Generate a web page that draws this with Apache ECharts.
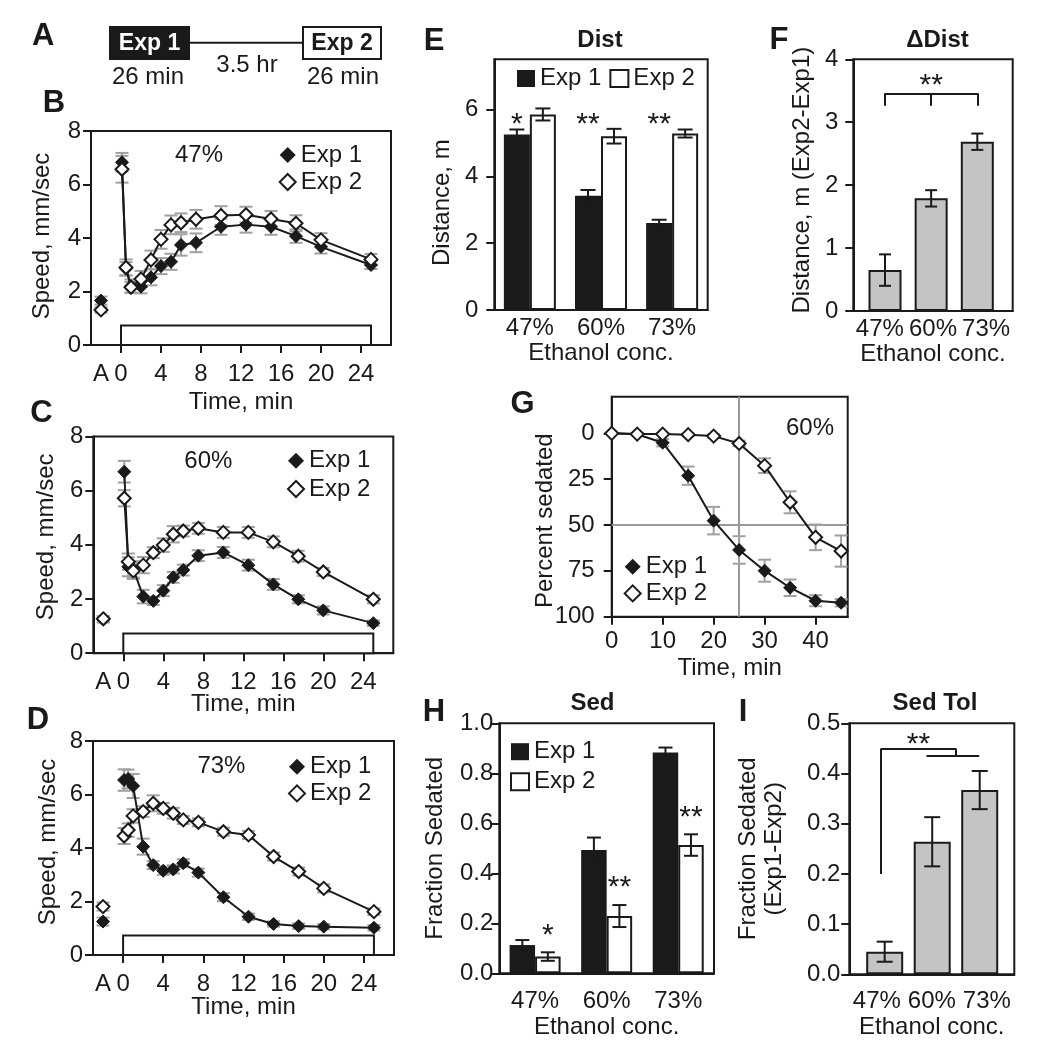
<!DOCTYPE html>
<html><head><meta charset="utf-8">
<script src="https://cdn.jsdelivr.net/npm/echarts@6/dist/echarts.min.js"></script>
<style>html,body{margin:0;padding:0;background:#fff}#c{width:1050px;height:1050px}</style>
</head><body><div id="c"></div>
<script>
// ---------------- DATA ----------------
const timeMin = [0.1, 0.5, 1, 2, 3, 4, 5, 6, 7.5, 10, 12.5, 15, 17.5, 20, 25];
const acclimX = -2;
const speedTicks = [0, 4, 8, 12, 16, 20, 24];

const speed47Exp1    = [6.83, 2.85, 2.2, 2.18, 2.53, 2.95, 3.11, 3.74, 3.82, 4.42, 4.5, 4.42, 4.07, 3.67, 2.99];
const speed47Exp1Err = [0.35, 0.25, 0.25, 0.25, 0.3, 0.3, 0.3, 0.4, 0.35, 0.3, 0.3, 0.3, 0.25, 0.25, 0.15];
const speed47Exp2    = [6.57, 2.9, 2.16, 2.47, 3.18, 3.95, 4.49, 4.57, 4.70, 4.84, 4.87, 4.71, 4.55, 3.93, 3.2];
const speed47Exp2Err = [0.5, 0.3, 0.2, 0.3, 0.35, 0.35, 0.35, 0.35, 0.35, 0.35, 0.3, 0.3, 0.3, 0.25, 0.2];
const speed47Acclim    = [1.66, 1.31];
const speed47AcclimErr = [0.15, 0.1];

const speed60Exp1    = [6.70, 3.19, 3.1, 2.09, 1.93, 2.31, 2.80, 3.07, 3.60, 3.72, 3.25, 2.54, 1.99, 1.58, 1.11];
const speed60Exp1Err = [0.4, 0.35, 0.3, 0.25, 0.15, 0.2, 0.2, 0.2, 0.2, 0.2, 0.2, 0.2, 0.15, 0.15, 0.1];
const speed60Exp2    = [5.72, 3.38, 3.04, 3.25, 3.71, 3.99, 4.39, 4.51, 4.61, 4.46, 4.46, 4.11, 3.58, 3.0, 1.99];
const speed60Exp2Err = [0.3, 0.3, 0.3, 0.3, 0.2, 0.25, 0.3, 0.2, 0.2, 0.2, 0.2, 0.2, 0.2, 0.15, 0.15];
const speed60Acclim    = [1.25, 1.27];
const speed60AcclimErr = [0.12, 0.1];

const speed73Exp1    = [6.54, 6.58, 6.32, 4.05, 3.36, 3.15, 3.2, 3.43, 3.08, 2.16, 1.43, 1.16, 1.08, 1.06, 1.02];
const speed73Exp1Err = [0.4, 0.35, 0.45, 0.3, 0.15, 0.15, 0.15, 0.15, 0.15, 0.15, 0.12, 0.1, 0.1, 0.1, 0.1];
const speed73Exp2    = [4.45, 4.67, 5.2, 5.36, 5.67, 5.48, 5.3, 5.05, 4.96, 4.61, 4.49, 3.68, 3.12, 2.49, 1.62];
const speed73Exp2Err = [0.3, 0.25, 0.25, 0.2, 0.3, 0.2, 0.2, 0.15, 0.15, 0.15, 0.15, 0.15, 0.15, 0.15, 0.12];
const speed73Acclim    = [1.25, 1.81];
const speed73AcclimErr = [0.15, 0.15];

const concCats = ['47%', '60%', '73%'];
const concSlots = [1, 2, 3];

const distExp1    = [5.25, 3.42, 2.6];
const distExp1Err = [0.15, 0.17, 0.1];
const distExp2    = [5.85, 5.2, 5.28];
const distExp2Err = [0.18, 0.22, 0.12];
const distStars   = ['*', '**', '**'];

const deltaDist    = [0.65, 1.79, 2.69];
const deltaDistErr = [0.25, 0.13, 0.13];

const sedTime    = [0, 5, 10, 15, 20, 25, 30, 35, 40, 45];
const sedExp1    = [0, 0.5, 5.1, 23.1, 47.6, 63.6, 74.9, 84.2, 91.3, 92.4];
const sedExp1Err = [0, 0.5, 2, 5, 7.5, 7.5, 6, 4.5, 3, 2];
const sedExp2    = [0, 0.4, 0.4, 0.7, 1.5, 5.5, 17.6, 37.6, 56.7, 64.2];
const sedExp2Err = [0, 0.3, 0.5, 0.5, 1, 1.5, 4, 6, 7, 8.5];

const fracExp1    = [0.113, 0.493, 0.883];
const fracExp1Err = [0.02, 0.05, 0.02];
const fracExp2    = [0.067, 0.229, 0.513];
const fracExp2Err = [0.017, 0.044, 0.043];
const fracStars   = ['*', '**', '**'];

const sedTol    = [0.045, 0.264, 0.367];
const sedTolErr = [0.02, 0.049, 0.038];

// ---------------- STYLE / HELPERS ----------------
const FONT = "'Liberation Sans', Arial, Helvetica, sans-serif";
const INK = '#1a1a1a';
const ERR_GRAY = '#a0a0a0';
const BAR_GRAY = '#c4c4c4';
const txt = (size, weight, color) => ({fontFamily: FONT, fontSize: size || 24, fontWeight: weight || 'normal', color: color || INK});

function merge(a, b) {
  const out = Object.assign({}, a);
  for (const k in b) {
    const v = b[k];
    if (v && typeof v === 'object' && !Array.isArray(v) && a[k] && typeof a[k] === 'object' && !Array.isArray(a[k])) out[k] = merge(a[k], v);
    else out[k] = v;
  }
  return out;
}
const zip = (xs, ys, es) => xs.map((x, i) => es ? [x, ys[i], es[i]] : [x, ys[i]]);

function valueAxis(gridIndex, o) {
  return merge({
    type: 'value', gridIndex,
    axisLine: {show: true, onZero: false, lineStyle: {color: INK, width: 2}},
    axisTick: {show: true, inside: false, length: 8, lineStyle: {color: INK, width: 2}},
    axisLabel: merge(txt(24), {margin: 10}),
    splitLine: {show: false},
    nameLocation: 'middle', nameTextStyle: txt(24), nameMoveOverlap: false
  }, o || {});
}
function catAxis(gridIndex, o) {
  return merge({
    type: 'category', gridIndex, data: concCats,
    axisLine: {show: true, onZero: false, lineStyle: {color: INK, width: 2}},
    axisTick: {show: false},
    axisLabel: merge(txt(24), {interval: 0, margin: 6}),
    splitLine: {show: false},
    name: 'Ethanol conc.', nameLocation: 'middle', nameTextStyle: txt(24), nameMoveOverlap: false
  }, o || {});
}

function errSeries(axIdx, yIdx, data, color, capW, dx, z) {
  return {
    type: 'custom', xAxisIndex: axIdx, yAxisIndex: yIdx, z: z, silent: true,
    encode: {x: 0, y: 1}, data: data,
    renderItem: function (params, api) {
      const x = api.value(0), y = api.value(1), e = api.value(2);
      const p1 = api.coord([x, y + e]), p2 = api.coord([x, y - e]);
      const cx = p1[0] + dx, h = capW / 2;
      const st = {stroke: color, lineWidth: 2};
      return {type: 'group', children: [
        {type: 'line', shape: {x1: cx, y1: p1[1], x2: cx, y2: p2[1]}, style: st},
        {type: 'line', shape: {x1: cx - h, y1: p1[1], x2: cx + h, y2: p1[1]}, style: st},
        {type: 'line', shape: {x1: cx - h, y1: p2[1], x2: cx + h, y2: p2[1]}, style: st}
      ]};
    }
  };
}
function labelSeries(axIdx, yIdx, data, texts, size, offset) {
  return {
    type: 'scatter', xAxisIndex: axIdx, yAxisIndex: yIdx, z: 5, silent: true,
    symbolSize: 1, itemStyle: {color: 'rgba(0,0,0,0)', opacity: 1},
    data: data,
    label: merge(txt(size), {show: true, position: 'inside', offset: offset || [0, 0],
      formatter: p => texts[p.dataIndex]})
  };
}

const filledDiamond = {color: INK, borderColor: INK, borderWidth: 1, opacity: 1};
const openDiamond = {color: '#fff', borderColor: INK, borderWidth: 2, opacity: 1};

// ---------------- GRIDS ----------------
const grids = [
  {left: 91, top: 131, width: 300, height: 214},      // B
  {left: 93.3, top: 436.5, width: 300, height: 216.7},// C
  {left: 93, top: 741, width: 301, height: 214},      // D
  {left: 494.3, top: 59.3, width: 213.4, height: 250.7}, // E
  {left: 853.3, top: 59.3, width: 159.4, height: 251.7}, // F
  {left: 611.7, top: 396.7, width: 236, height: 220},    // G
  {left: 499.3, top: 723.3, width: 214.7, height: 250},  // H
  {left: 849.3, top: 723.3, width: 165, height: 251}     // I
].map(g => Object.assign({show: true, borderColor: INK, borderWidth: 2, backgroundColor: 'transparent', containLabel: false, outerBoundsMode: 'none'}, g));

const xAxes = [], yAxes = [], series = [], legends = [];

// ---------------- SPEED PANELS (B, C, D) ----------------
const speedPanels = [
  {g: 0, e1: speed47Exp1, e1e: speed47Exp1Err, e2: speed47Exp2, e2e: speed47Exp2Err, a: speed47Acclim, ae: speed47AcclimErr,
   conc: '47%', concAt: [7.8, 7.1], xGap: 45, yGap: 37, yPad: [0, 0, 0, 4], legend: {left: 278.7, top: 143, gap: 3}},
  {g: 1, e1: speed60Exp1, e1e: speed60Exp1Err, e2: speed60Exp2, e2e: speed60Exp2Err, a: speed60Acclim, ae: speed60AcclimErr,
   conc: '60%', concAt: [8.5, 7.07], xGap: 39, yGap: 35, yPad: [0, 0, 0, 16], legend: {left: 287, top: 448.7, gap: 4.3}},
  {g: 2, e1: speed73Exp1, e1e: speed73Exp1Err, e2: speed73Exp2, e2e: speed73Exp2Err, a: speed73Acclim, ae: speed73AcclimErr,
   conc: '73%', concAt: [9.8, 7.07], xGap: 40, yGap: 33, yPad: [0, 0, 0, 12], legend: {left: 288, top: 754.7, gap: 2.7}}
];

function diamondLegend(l) {
  return {left: l.left, top: l.top, orient: 'vertical', padding: 0, itemGap: l.gap, icon: 'diamond',
    itemWidth: 16, itemHeight: 16, selectedMode: false, textStyle: txt(24),
    data: [{name: 'Exp 1', itemStyle: {color: INK, borderColor: INK, borderWidth: 0, opacity: 1}},
           {name: 'Exp 2', itemStyle: {color: '#fff', borderColor: INK, borderWidth: 2, opacity: 1}}]};
}
function rectLegend(l) {
  return {left: l.left, top: l.top, orient: l.orient, padding: 0, itemGap: l.gap, icon: 'rect',
    itemWidth: 18, itemHeight: 17, selectedMode: false, textStyle: txt(24),
    data: [{name: 'Exp 1', itemStyle: {color: INK, borderColor: INK, borderWidth: 0, opacity: 1}},
           {name: 'Exp 2', itemStyle: {color: '#fff', borderColor: INK, borderWidth: 2, opacity: 1}}]};
}

speedPanels.forEach(p => {
  const g = p.g;
  xAxes[g] = valueAxis(g, {min: -3, max: 27,
    axisTick: {customValues: speedTicks},
    axisLabel: {customValues: [acclimX].concat(speedTicks), margin: 17, formatter: v => v === acclimX ? 'A' : String(v)},
    name: 'Time, min', nameGap: p.xGap});
  yAxes[g] = valueAxis(g, {min: 0, max: 8, interval: 2, name: 'Speed, mm/sec', nameGap: p.yGap,
    nameTextStyle: {padding: p.yPad}});
  const e1 = zip(timeMin, p.e1, p.e1e).concat([[acclimX, p.a[0], p.ae[0]]]);
  const e2 = zip(timeMin, p.e2, p.e2e).concat([[acclimX, p.a[1], p.ae[1]]]);
  series.push(errSeries(g, g, e1, ERR_GRAY, 13, 0, 1));
  series.push(errSeries(g, g, e2, ERR_GRAY, 13, 0, 1));
  series.push({type: 'line', name: 'Exp 1', xAxisIndex: g, yAxisIndex: g, z: 2, silent: true,
    data: zip(timeMin, p.e1), symbol: 'diamond', symbolSize: 13, showSymbol: true,
    itemStyle: filledDiamond, lineStyle: {color: INK, width: 2},
    markArea: {silent: true, z: 1, label: {show: false}, itemStyle: {color: '#fff', borderColor: INK, borderWidth: 2, opacity: 1},
      data: [[{coord: [0, 0]}, {coord: [25, 0.73]}]]}});
  series.push({type: 'scatter', name: 'Exp 1', xAxisIndex: g, yAxisIndex: g, z: 2, silent: true,
    data: [[acclimX, p.a[0]]], symbol: 'diamond', symbolSize: 13, itemStyle: filledDiamond});
  series.push({type: 'line', name: 'Exp 2', xAxisIndex: g, yAxisIndex: g, z: 3, silent: true,
    data: zip(timeMin, p.e2), symbol: 'diamond', symbolSize: 13, showSymbol: true,
    itemStyle: openDiamond, lineStyle: {color: INK, width: 2}});
  series.push({type: 'scatter', name: 'Exp 2', xAxisIndex: g, yAxisIndex: g, z: 3, silent: true,
    data: [[acclimX, p.a[1]]], symbol: 'diamond', symbolSize: 13, itemStyle: openDiamond});
  series.push(labelSeries(g, g, [p.concAt], [p.conc], 24));
  legends.push(diamondLegend(p.legend));
});

// ---------------- E: Dist ----------------
xAxes[3] = catAxis(3, {nameGap: 31});
yAxes[3] = valueAxis(3, {min: 0, max: 7.5, axisTick: {customValues: [0, 2, 4, 6]},
  axisLabel: {customValues: [0, 2, 4, 6], margin: 16}, name: 'Distance, m', nameGap: 40,
  nameTextStyle: {padding: [0, 36, 0, 0]}});
series.push({type: 'bar', name: 'Exp 1', xAxisIndex: 3, yAxisIndex: 3, z: 2, silent: true, barWidth: 26, barGap: '0%',
  data: distExp1, itemStyle: {color: INK, borderColor: INK, borderWidth: 0}});
series.push({type: 'bar', name: 'Exp 2', xAxisIndex: 3, yAxisIndex: 3, z: 2, silent: true, barWidth: 26, barGap: '0%',
  data: distExp2, itemStyle: {color: '#fff', borderColor: INK, borderWidth: 2}});
series.push(errSeries(3, 3, concCats.map((c, i) => [i, distExp1[i], distExp1Err[i]]), INK, 15, -13, 3));
series.push(errSeries(3, 3, concCats.map((c, i) => [i, distExp2[i], distExp2Err[i]]), INK, 15, 13, 3));
series.push(labelSeries(3, 3, concCats.map((c, i) => [i, 5.55]), distStars, 30, [-13, 0]));
legends.push(rectLegend({left: 517, top: 66.5, orient: 'horizontal', gap: 8}));

// ---------------- F: delta Dist ----------------
xAxes[4] = catAxis(4, {nameGap: 31});
xAxes[8] = {type: 'value', gridIndex: 4, min: 0.313, max: 3.767, show: false, position: 'top'};
yAxes[4] = valueAxis(4, {min: 0, max: 4, interval: 1, axisLabel: {margin: 15},
  name: 'Distance, m (Exp2-Exp1)', nameGap: 39, nameTextStyle: {padding: [0, 0, 0, 10]}});
series.push({type: 'bar', name: 'dDist', xAxisIndex: 8, yAxisIndex: 4, z: 2, silent: true, barWidth: 33,
  data: zip(concSlots, deltaDist), itemStyle: {color: BAR_GRAY, borderColor: INK, borderWidth: 2},
  markLine: {silent: true, symbol: 'none', z: 3, label: {show: false}, lineStyle: {color: INK, width: 2, type: 'solid'},
    data: [
      [{coord: [1, 3.45]}, {coord: [3, 3.45]}],
      [{coord: [1, 3.46]}, {coord: [1, 3.26]}],
      [{coord: [2, 3.46]}, {coord: [2, 3.26]}],
      [{coord: [3, 3.46]}, {coord: [3, 3.26]}]
    ]}});
series.push(errSeries(8, 4, concSlots.map((x, i) => [x, deltaDist[i], deltaDistErr[i]]), INK, 12, 0, 3));
series.push(labelSeries(8, 4, [[2, 3.58]], ['**'], 30));

// ---------------- G: Percent sedated ----------------
xAxes[5] = valueAxis(5, {min: 0, max: 46.3, axisTick: {customValues: [0, 10, 20, 30, 40]},
  axisLabel: {customValues: [0, 10, 20, 30, 40], margin: 13}, name: 'Time, min', nameGap: 40});
yAxes[5] = valueAxis(5, {min: -20, max: 100, inverse: true, axisTick: {customValues: [0, 25, 50, 75, 100]},
  axisLabel: {customValues: [0, 25, 50, 75, 100], margin: 17}, name: 'Percent sedated', nameGap: 54,
  nameTextStyle: {padding: [0, 28, 0, 0]}});
series.push(errSeries(5, 5, zip(sedTime, sedExp1, sedExp1Err), ERR_GRAY, 13, 0, 1));
series.push(errSeries(5, 5, zip(sedTime, sedExp2, sedExp2Err), ERR_GRAY, 13, 0, 1));
series.push({type: 'line', name: 'Exp 1', xAxisIndex: 5, yAxisIndex: 5, z: 2, silent: true,
  data: zip(sedTime, sedExp1), symbol: 'diamond', symbolSize: 13, showSymbol: true,
  itemStyle: filledDiamond, lineStyle: {color: INK, width: 2},
  markLine: {silent: true, symbol: 'none', z: 1, label: {show: false},
    lineStyle: {color: '#9a9a9a', width: 2, type: 'solid'}, data: [{xAxis: 25}, {yAxis: 50}]}});
series.push({type: 'line', name: 'Exp 2', xAxisIndex: 5, yAxisIndex: 5, z: 3, silent: true,
  data: zip(sedTime, sedExp2), symbol: 'diamond', symbolSize: 13, showSymbol: true,
  itemStyle: openDiamond, lineStyle: {color: INK, width: 2}});
series.push(labelSeries(5, 5, [[38.9, -2.7]], ['60%'], 24));
legends.push(diamondLegend({left: 623.7, top: 554.7, gap: 2.7}));

// ---------------- H: Sed ----------------
xAxes[6] = catAxis(6, {axisLabel: {margin: 16.5}, nameGap: 42});
yAxes[6] = valueAxis(6, {min: 0, max: 1, interval: 0.2, axisLabel: {margin: 6, formatter: v => v.toFixed(1)},
  name: 'Fraction Sedated', nameGap: 52});
series.push({type: 'bar', name: 'Exp 1', xAxisIndex: 6, yAxisIndex: 6, z: 2, silent: true, barWidth: 25.5, barGap: '0%',
  data: fracExp1, itemStyle: {color: INK, borderColor: INK, borderWidth: 0}});
series.push({type: 'bar', name: 'Exp 2', xAxisIndex: 6, yAxisIndex: 6, z: 2, silent: true, barWidth: 25.5, barGap: '0%',
  data: fracExp2, itemStyle: {color: '#fff', borderColor: INK, borderWidth: 2}});
series.push(errSeries(6, 6, concCats.map((c, i) => [i, fracExp1[i], fracExp1Err[i]]), INK, 14, -12.75, 3));
series.push(errSeries(6, 6, concCats.map((c, i) => [i, fracExp2[i], fracExp2Err[i]]), INK, 14, 12.75, 3));
series.push(labelSeries(6, 6, concCats.map((c, i) => [i, fracExp2[i] + fracExp2Err[i]]), fracStars, 30, [12.75, -17]));
legends.push(rectLegend({left: 510, top: 739.7, orient: 'vertical', gap: 6}));

// ---------------- I: Sed Tol ----------------
xAxes[7] = catAxis(7, {axisLabel: {margin: 15.5}, nameGap: 41});
xAxes[9] = {type: 'value', gridIndex: 7, min: 0.255, max: 3.728, show: false, position: 'top'};
yAxes[7] = valueAxis(7, {min: 0, max: 0.5, interval: 0.1, axisLabel: {margin: 9, formatter: v => v.toFixed(1)},
  name: 'Fraction Sedated\n(Exp1-Exp2)', nameGap: 62, nameTextStyle: {lineHeight: 26}});
series.push({type: 'bar', name: 'SedTol', xAxisIndex: 9, yAxisIndex: 7, z: 2, silent: true, barWidth: 37,
  data: zip(concSlots, sedTol), itemStyle: {color: BAR_GRAY, borderColor: INK, borderWidth: 2},
  markLine: {silent: true, symbol: 'none', z: 3, label: {show: false}, lineStyle: {color: INK, width: 2, type: 'solid'},
    data: [
      [{coord: [0.92, 0.2]}, {coord: [0.92, 0.45]}],
      [{coord: [0.92, 0.45]}, {coord: [2.5, 0.45]}],
      [{coord: [2.5, 0.45]}, {coord: [2.5, 0.435]}],
      [{coord: [1.88, 0.435]}, {coord: [2.99, 0.435]}]
    ]}});
series.push(errSeries(9, 7, concSlots.map((x, i) => [x, sedTol[i], sedTolErr[i]]), INK, 16, 0, 3));
series.push(labelSeries(9, 7, [[1.71, 0.457]], ['**'], 30));

// ---------------- GRAPHIC (panel letters, titles, protocol diagram) ----------------
function gtext(x, y, text, size, weight, fill) {
  return {type: 'text', x: x, y: y, silent: true, z: 10,
    style: {text: text, fontFamily: FONT, fontSize: size, fontWeight: weight, fill: fill || INK,
      align: 'center', verticalAlign: 'middle', textAlign: 'center', textVerticalAlign: 'middle'}};
}
const graphicEls = [
  gtext(43.3, 36, 'A', 31, 'bold'), gtext(54, 103.5, 'B', 31, 'bold'), gtext(41.5, 413.5, 'C', 31, 'bold'),
  gtext(38, 720, 'D', 31, 'bold'), gtext(434, 41, 'E', 31, 'bold'), gtext(779, 40, 'F', 31, 'bold'),
  gtext(522.5, 404, 'G', 31, 'bold'), gtext(434, 712.5, 'H', 31, 'bold'), gtext(743, 712.5, 'I', 31, 'bold'),
  gtext(600, 40, 'Dist', 24, 'bold'), gtext(937.5, 40, 'ΔDist', 24, 'bold'),
  gtext(592.5, 703, 'Sed', 24, 'bold'), gtext(935, 703, 'Sed Tol', 24, 'bold'),
  {type: 'line', silent: true, z: 9, shape: {x1: 189, y1: 42.7, x2: 303, y2: 42.7}, style: {stroke: INK, lineWidth: 2}},
  {type: 'rect', silent: true, z: 9, shape: {x: 110, y: 27, width: 79, height: 32}, style: {fill: INK, stroke: INK, lineWidth: 2}},
  {type: 'rect', silent: true, z: 9, shape: {x: 303, y: 27, width: 78, height: 32}, style: {fill: '#fff', stroke: INK, lineWidth: 2}},
  gtext(149.5, 43.5, 'Exp 1', 23, 'bold', '#fff'), gtext(342, 43.5, 'Exp 2', 23, 'bold'),
  gtext(148, 77, '26 min', 24, 'normal'), gtext(247, 65, '3.5 hr', 24, 'normal'), gtext(343, 77, '26 min', 24, 'normal')
];

const option = {
  animation: false,
  backgroundColor: '#ffffff',
  textStyle: {fontFamily: FONT},
  grid: grids,
  xAxis: xAxes,
  yAxis: yAxes,
  legend: legends,
  series: series,
  graphic: {elements: graphicEls}
};
const chart = echarts.init(document.getElementById('c'), null, {renderer: 'canvas'});
chart.setOption(option);
</script>
</body></html>
